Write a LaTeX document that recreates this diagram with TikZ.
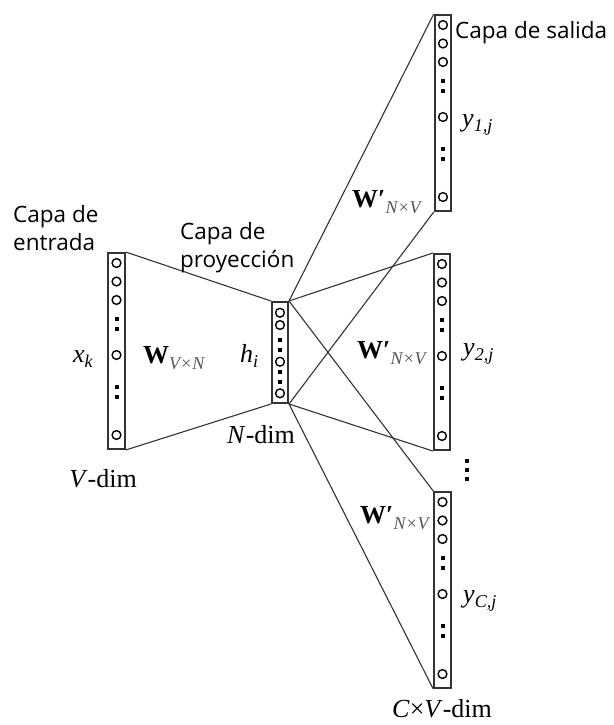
\documentclass[tikz,border=0pt]{standalone}
\usepackage{fontspec}
\setmainfont{Liberation Serif}
\newfontfamily\labelsans{Open Sans}
\definecolor{linec}{HTML}{333333}
\definecolor{subgray}{HTML}{555555}
\newcommand\lowsub[1]{\raisebox{-5pt}{\fontsize{18}{18}\selectfont\itshape #1}}
\newcommand\wsub[1]{\raisebox{-6pt}{\fontsize{18}{18}\selectfont\itshape\color{subgray}#1}}
\newcommand\biglayer[3]{%
  \node[layerbox, minimum width=16.5pt, minimum height=196pt] (#1) at (#2,#3+98) {};
  \foreach \cy in {10,28.5,47,102,182} \draw[neuron] (#2,#3+\cy) circle (4.4pt);
  \foreach \dy in {66,75.5,134,144} \fill[black] (#2-2,#3+\dy-2) rectangle ++(4,4);
}
\begin{document}
\begin{tikzpicture}[x=1pt,y=-1pt,
  layerbox/.style={draw=linec, line width=2pt, inner sep=0pt},
  neuron/.style={draw=black, line width=1.4pt},
  conn/.style={draw=linec, line width=1.1pt},
  sanslab/.style={font=\labelsans\fontsize{22.5}{22.5}\selectfont, anchor=base west, inner sep=0pt},
  serlab/.style={font=\fontsize{26}{26}\selectfont, anchor=base west, inner sep=0pt}]
\useasboundingbox (0,0) rectangle (613,725);
% layers
\biglayer{in}{116.5}{253}
\node[layerbox, minimum width=16pt, minimum height=101pt] (hid) at (280,352.5) {};
\foreach \cy in {10.7,23,59.7,91.3} \draw[neuron] (280,302+\cy) circle (4.4pt);
\foreach \dy in {38,48,69.7,79.7} \fill[black] (280-2,302+\dy-2) rectangle ++(4,4);
\biglayer{out1}{443}{15}
\biglayer{out2}{442}{254}
\biglayer{out3}{442.5}{492}
% connectors
\draw[conn] (in.north east) -- (hid.north west);
\draw[conn] (in.south east) -- (hid.south west);
\foreach \o in {out1,out2,out3}{
  \draw[conn] (hid.north east) -- (\o.north west);
  \draw[conn] (hid.south east) -- (\o.south west);
}
% vertical ellipsis
\foreach \vy in {461,470,479} \fill[black] (467-2,\vy-2) rectangle ++(4,4);
% sans labels
\node[sanslab] (inlabA) at (13,222) {Capa de};
\node[sanslab] (inlabB) at (13,250) {entrada};
\node[sanslab] (projA) at (180,239) {Capa de};
\node[sanslab] (projB) at (180,267) {proyección};
\node[sanslab] (outlab) at (455,38) {Capa de salida};
% serif labels
\node[serlab] (xk) at (73,362) {\textit{x}\lowsub{k}};
\node[serlab] (win) at (143,363) {\textbf{W}\wsub{V×N}};
\node[serlab] (hi) at (240,362) {\textit{h}\lowsub{i}};
\node[serlab] (ndim) at (227,443) {\textit{N}-dim};
\node[serlab, anchor=base east] (vdim) at (137,487) {\textit{V}-dim};
\node[serlab] (w1) at (352,207) {\textbf{W′}\wsub{N×V}};
\node[serlab] (w2) at (357,358) {\textbf{W′}\wsub{N×V}};
\node[serlab] (w3) at (360,523) {\textbf{W′}\wsub{N×V}};
\node[serlab] (y1) at (462,126) {\textit{y}\lowsub{1,j}};
\node[serlab] (y2) at (463,355) {\textit{y}\lowsub{2,j}};
\node[serlab] (yc) at (463,602) {\textit{y}\lowsub{C,j}};
\node[serlab] (cvdim) at (392,717) {\textit{C}×\textit{V}-dim};
\end{tikzpicture}
\end{document}
